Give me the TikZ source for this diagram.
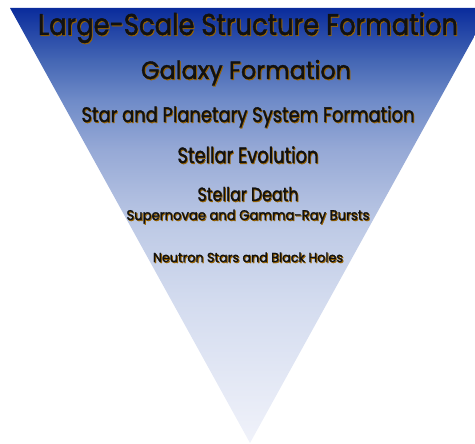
\documentclass[tikz,border=0pt]{standalone}
\usepackage{fontspec}
\setmainfont{Poppins}
\newfontfamily\tierfont{Poppins}[FakeBold=1.6]
\usepackage{graphicx}
\usetikzlibrary{positioning}
\definecolor{funneltop}{HTML}{0A2C9C}
\definecolor{funnelhi}{HTML}{4466B4}
\definecolor{funnelmid}{HTML}{6F8BC8}
\definecolor{funnellow}{HTML}{96A9D6}
\definecolor{funnelpale}{HTML}{BFCBE6}
\definecolor{funnelmist}{HTML}{D4DCEF}
\definecolor{funnelbot}{HTML}{F0F2FA}
\definecolor{glowamber}{HTML}{9A6400}
\definecolor{inkblack}{HTML}{111111}

\pgfdeclareverticalshading{funnelfade}{100bp}{%
  color(0bp)=(funnelbot); color(25bp)=(funnelbot); color(41bp)=(funnelmist);
  color(49.5bp)=(funnelpale); color(58.7bp)=(funnellow); color(64.4bp)=(funnelmid);
  color(69bp)=(funnelhi); color(75bp)=(funneltop); color(100bp)=(funneltop)}

% black text with an amber shadow, stretched to a given width
\newcommand{\tierlabel}[2]{\resizebox{#1}{\height}{\rlap{\kern1pt\raisebox{-1pt}{\color{glowamber}#2}}#2}}

\begin{document}
\begin{tikzpicture}[
  x=1pt, y=-1pt,
  tier/.style = {anchor=base, inner sep=0pt, text=inkblack},
]
\useasboundingbox (0,0) rectangle (475,444);

% --- the funnel, cut off by the right edge --------------------------------------------------------
\begin{scope}
  \clip (0,0) rectangle (475,444);
  \shade[shading=funnelfade] (10,8) -- (490,8) -- (250,443) -- cycle;
\end{scope}

% --- the scales, largest on top -------------------------------------------------------------------
\node[tier, font=\tierfont\fontsize{30}{30}\selectfont] (lss)   at (248,35)  {\tierlabel{420pt}{Large-Scale Structure Formation}};
\node[tier, font=\tierfont\fontsize{25}{25}\selectfont] (gal)   at (246,79)  {\tierlabel{210pt}{Galaxy Formation}};
\node[tier, font=\tierfont\fontsize{21}{21}\selectfont] (star)  at (248,122) {\tierlabel{333pt}{Star and Planetary System Formation}};
\node[tier, font=\tierfont\fontsize{22}{22}\selectfont] (evol)  at (248,163) {\tierlabel{141pt}{Stellar Evolution}};
\node[tier, font=\tierfont\fontsize{19}{19}\selectfont] (death) at (248,201) {\tierlabel{101pt}{Stellar Death}};
\node[tier, font=\tierfont\fontsize{14}{14}\selectfont] (burst) at (248,220) {\tierlabel{243pt}{Supernovae and Gamma-Ray Bursts}};
\node[tier, font=\tierfont\fontsize{13}{13}\selectfont] (hole)  at (248,262) {\tierlabel{190pt}{Neutron Stars and Black Holes}};

\end{tikzpicture}
\end{document}
